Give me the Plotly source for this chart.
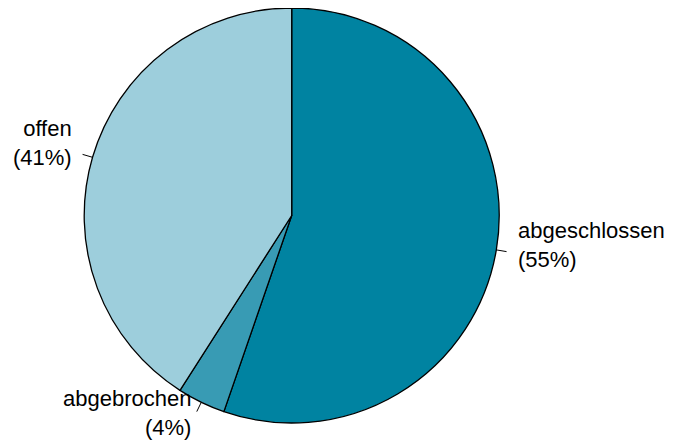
import math
import plotly.graph_objects as go

labels = ["abgeschlossen", "abgebrochen", "offen"]
values = [55.3, 3.75, 40.95]
pct_labels = ["55%", "4%", "41%"]
colors = ["#0083A1", "#389BB4", "#9DCEDC"]

# The page body has an 8px margin, so the figure is drawn 8px smaller
# and all reference pixel positions are shifted by that margin.
OFF = 8
W, H = 674 - OFF, 441 - OFF
CX, CY, R = 291.7 - OFF, 215.5 - OFF, 207.5  # pie centre / radius in pixels
FONT = dict(family="Liberation Sans, Arial, sans-serif", size=22, color="#000000")

fig = go.Figure(go.Pie(
    labels=labels,
    values=values,
    sort=False,
    direction="clockwise",
    rotation=0,
    marker=dict(colors=colors, line=dict(color="#000000", width=1.3)),
    textinfo="none",
    hoverinfo="label+percent",
    showlegend=False,
    domain=dict(x=[max(0, (CX - R) / W), min(1, (CX + R) / W)],
                y=[max(0, 1 - (CY + R) / H), min(1, 1 - (CY - R) / H)]),
))

total = sum(values)
cum = 0
annotations, shapes = [], []
for lab, v, pl in zip(labels, values, pct_labels):
    mid = (cum + v / 2) / total * 2 * math.pi
    cum += v
    sx, sy = math.sin(mid), math.cos(mid)

    def pt(f):
        return (CX + f * R * sx) / W, 1 - (CY - f * R * sy) / H

    x0, y0 = pt(1.0)
    x1, y1 = pt(1.05)
    shapes.append(dict(type="line", xref="paper", yref="paper",
                       x0=x0, y0=y0, x1=x1, y1=y1,
                       line=dict(color="#000000", width=1)))
    tx, ty = pt(1.1)
    annotations.append(dict(
        xref="paper", yref="paper", x=tx, y=ty,
        text=f"{lab}<br>({pl})", showarrow=False,
        xanchor="left" if sx > 0 else "right", yanchor="middle",
        align="left" if sx > 0 else "right",
        font=FONT, borderpad=0, yshift=8,
    ))

fig.update_layout(
    width=W, height=H,
    margin=dict(l=0, r=0, t=0, b=0),
    paper_bgcolor="#FFFFFF",
    plot_bgcolor="#FFFFFF",
    annotations=annotations,
    shapes=shapes,
)

fig.write_html("out.html")
